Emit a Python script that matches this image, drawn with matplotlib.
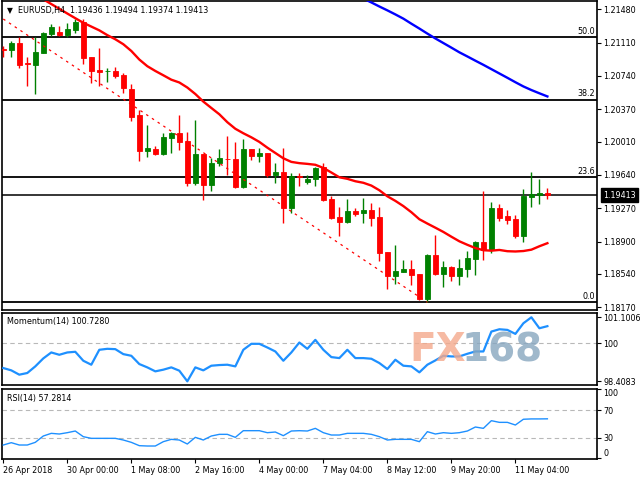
import numpy as np
import matplotlib.pyplot as plt
import matplotlib.transforms as mtransforms

plt.rcParams['font.family'] = ['DejaVu Sans']
FS = 5.8

# EURUSD H4 candles, bar 0 = 26 Apr 2018 16:00
opens = [1.21036, 1.21028, 1.21109, 1.20880, 1.20861, 1.20998, 1.21206, 1.21228, 1.21195, 1.21250,
         1.21342, 1.20954, 1.20806, 1.20795, 1.20798, 1.20750, 1.20591, 1.20306, 1.19910, 1.19928,
         1.19873, 1.20051, 1.20109, 1.20021, 1.19554, 1.19873, 1.19529, 1.19770, 1.19821, 1.19817,
         1.19503, 1.19928, 1.19851, 1.19881, 1.19643, 1.19676, 1.19276, 1.19625, 1.19562, 1.19592,
         1.19725, 1.19373, 1.19170, 1.19121, 1.19240, 1.19221, 1.19251, 1.19170, 1.18781, 1.18521,
         1.18566, 1.18596, 1.18540, 1.18262, 1.18751, 1.18540, 1.18614, 1.18521, 1.18596, 1.18710,
         1.18892, 1.18807, 1.19270, 1.19184, 1.19148, 1.18962, 1.19399, 1.19414, 1.19436]
highs = [1.21072, 1.21131, 1.21169, 1.20947, 1.21169, 1.21228, 1.21317, 1.21295, 1.21331, 1.21376,
         1.21369, 1.20954, 1.21047, 1.20831, 1.20843, 1.20776, 1.20650, 1.20362, 1.20195, 1.19962,
         1.20109, 1.20121, 1.20306, 1.20121, 1.20250, 1.19873, 1.19825, 1.19928, 1.20073, 1.20006,
         1.20039, 1.19928, 1.19943, 1.19887, 1.19770, 1.19943, 1.19665, 1.19665, 1.19636, 1.19732,
         1.19776, 1.19406, 1.19281, 1.19370, 1.19270, 1.19381, 1.19325, 1.19281, 1.18781, 1.18862,
         1.18696, 1.18696, 1.18540, 1.18762, 1.18973, 1.18684, 1.18632, 1.18707, 1.18795, 1.18907,
         1.19462, 1.19336, 1.19314, 1.19251, 1.19192, 1.19481, 1.19673, 1.19592, 1.19494]
lows = [1.20950, 1.20954, 1.20825, 1.20628, 1.20539, 1.20991, 1.21183, 1.21187, 1.21176, 1.21220,
        1.20872, 1.20665, 1.20628, 1.20673, 1.20714, 1.20554, 1.20243, 1.19798, 1.19843, 1.19862,
        1.19862, 1.19887, 1.19917, 1.19517, 1.19529, 1.19362, 1.19465, 1.19740, 1.19640, 1.19492,
        1.19492, 1.19806, 1.19787, 1.19621, 1.19554, 1.19103, 1.19214, 1.19517, 1.19540, 1.19517,
        1.19354, 1.19151, 1.18962, 1.19110, 1.19184, 1.19110, 1.19073, 1.18688, 1.18373, 1.18429,
        1.18566, 1.18418, 1.18251, 1.18226, 1.18529, 1.18399, 1.18466, 1.18418, 1.18510, 1.18529,
        1.18696, 1.18777, 1.19129, 1.19095, 1.18943, 1.18899, 1.19288, 1.19318, 1.19374]
closes = [1.21032, 1.21109, 1.20861, 1.20877, 1.21009, 1.21220, 1.21287, 1.21198, 1.21261, 1.21342,
          1.20936, 1.20798, 1.20787, 1.20800, 1.20739, 1.20603, 1.20287, 1.19910, 1.19936, 1.19873,
          1.20065, 1.20109, 1.20009, 1.19554, 1.19873, 1.19529, 1.19776, 1.19832, 1.19817, 1.19503,
          1.19928, 1.19851, 1.19887, 1.19640, 1.19673, 1.19276, 1.19629, 1.19617, 1.19595, 1.19717,
          1.19362, 1.19165, 1.19121, 1.19240, 1.19206, 1.19251, 1.19165, 1.18777, 1.18521, 1.18570,
          1.18596, 1.18529, 1.18262, 1.18751, 1.18540, 1.18614, 1.18521, 1.18603, 1.18714, 1.18892,
          1.18807, 1.19270, 1.19165, 1.19140, 1.18962, 1.19406, 1.19425, 1.19436, 1.19413]

# moving averages (red one starts at bar 4, blue one at bar 45)
ma_fast_start = 4
ma_fast = [1.21643, 1.21591, 1.21538, 1.21486, 1.21433, 1.21381, 1.21330, 1.21288, 1.21246, 1.21193,
           1.21147, 1.21092, 1.21017, 1.20922, 1.20848, 1.20795, 1.20747, 1.20698, 1.20667, 1.20611,
           1.20539, 1.20455, 1.20384, 1.20314, 1.20226, 1.20153, 1.20103, 1.20058, 1.20007, 1.19943,
           1.19884, 1.19825, 1.19785, 1.19771, 1.19763, 1.19753, 1.19718, 1.19667, 1.19614, 1.19597,
           1.19570, 1.19553, 1.19522, 1.19470, 1.19403, 1.19352, 1.19294, 1.19226, 1.19148, 1.19100,
           1.19054, 1.19007, 1.18954, 1.18903, 1.18864, 1.18828, 1.18804, 1.18799, 1.18807, 1.18793,
           1.18790, 1.18795, 1.18810, 1.18848, 1.18882]
ma_slow_start = 45
ma_slow = [1.21599, 1.21556, 1.21511, 1.21468, 1.21423, 1.21376, 1.21320, 1.21266, 1.21210, 1.21156,
           1.21105, 1.21054, 1.21002, 1.20956, 1.20909, 1.20863, 1.20815, 1.20767, 1.20719, 1.20670,
           1.20623, 1.20583, 1.20547, 1.20512]

momentum = [98.966, 98.869, 98.687, 98.757, 99.036, 99.371, 99.622, 99.524, 99.622, 99.650,
            99.273, 99.106, 99.734, 99.775, 99.761, 99.552, 99.482, 99.134, 98.994, 98.827,
            98.897, 98.994, 98.855, 98.408, 98.994, 98.869, 99.064, 99.092, 99.106, 99.036,
            99.734, 99.985, 99.985, 99.831, 99.664, 99.273, 99.622, 100.040, 99.775, 100.152,
            99.734, 99.427, 99.385, 99.734, 99.385, 99.385, 99.357, 99.176, 98.924, 99.315,
            99.064, 99.036, 98.785, 99.106, 99.287, 99.482, 99.455, 99.455, 99.566, 99.664,
            99.664, 100.501, 100.598, 100.571, 100.403, 100.850, 101.101, 100.640, 100.728]
rsi = [19.45, 22.82, 19.45, 19.45, 23.30, 32.45, 36.30, 35.34, 37.26, 39.67,
       31.49, 29.08, 29.08, 29.08, 29.08, 26.67, 23.30, 18.49, 18.01, 18.01,
       24.27, 27.63, 26.67, 20.90, 30.52, 26.67, 32.45, 34.86, 34.86, 30.52,
       40.15, 40.15, 40.15, 37.26, 38.23, 32.93, 39.67, 40.15, 39.67, 43.52,
       37.26, 33.89, 33.89, 36.30, 36.30, 36.30, 34.86, 31.49, 26.67, 27.63,
       27.63, 27.63, 24.27, 38.71, 35.34, 37.26, 36.30, 37.26, 39.67, 45.45,
       43.52, 54.59, 52.18, 52.18, 48.33, 56.66, 57.14, 57.14, 57.28]

# fibonacci retracement and its dashed trend line
fib_low, fib_high = 1.18226, 1.24110
fib_pcts = [0.0, 23.6, 38.2, 50.0]
trend_x = [0, 53]
trend_y = [1.21372, 1.18226]

bid = 1.19413
price_ticks = [1.21480, 1.21110, 1.20740, 1.20370, 1.20010, 1.19640, 1.19270, 1.18900, 1.18540, 1.18170]
mom_ticks = [98.4083, 100, 101.1006]
rsi_ticks = [0, 30, 70, 100]
date_idx = [0, 8, 16, 24, 32, 40, 48, 56, 64]
date_labels = ['26 Apr 2018', '30 Apr 00:00', '1 May 08:00', '2 May 16:00', '4 May 00:00',
               '7 May 04:00', '8 May 12:00', '9 May 20:00', '11 May 04:00']

o = np.array(opens); h = np.array(highs); l = np.array(lows); c = np.array(closes)
x = np.arange(len(c))

fig = plt.figure(figsize=(6.4, 4.8), dpi=100)
W, H = 640.0, 480.0
ax = fig.add_axes([2 / W, 1 - 310 / H, 595 / W, 309 / H])
ax_mom = fig.add_axes([2 / W, 1 - 385.3 / H, 595 / W, 72.3 / H])
ax_rsi = fig.add_axes([2 / W, 1 - 459 / H, 595 / W, 70.3 / H])

for a in (ax, ax_mom, ax_rsi):
    a.set_xlim(-0.16, 74.2)
    for s in a.spines.values():
        s.set_linewidth(1.2)
        s.set_color('black')
    a.yaxis.tick_right()
    a.tick_params(axis='y', direction='out', length=3, width=0.8, pad=1.5, labelsize=FS)

# candles
cols = np.where(c >= o, '#008000', '#ff0000')
ax.vlines(x, l, h, colors=cols, lw=1.0, zorder=3)
ax.bar(x, c - o, bottom=o, width=0.62, color=cols, edgecolor=cols, linewidth=0.6, zorder=4)

# fib levels + bid line
blend = mtransforms.blended_transform_factory(ax.transAxes, ax.transData)
for p in fib_pcts:
    lvl = fib_low + (fib_high - fib_low) * p / 100
    ax.axhline(lvl, color='black', lw=1.3, zorder=2)
    ax.text(0.996, lvl + 0.00018, f'{p:.1f}', transform=blend, ha='right', va='bottom', fontsize=FS)
ax.axhline(bid, color='black', lw=1.1, zorder=2)
ax.plot(trend_x, trend_y, color='red', lw=0.9, ls=(0, (2, 3.5)), zorder=5)

# moving averages
ax.plot(ma_fast_start + np.arange(len(ma_fast)), ma_fast, color='red', lw=1.7, zorder=6)
ax.plot(ma_slow_start + np.arange(len(ma_slow)), ma_slow, color='#0000ff', lw=1.7, zorder=6)

ax.set_ylim(1.18140, 1.21572)
ax.set_yticks(price_ticks)
ax.set_yticklabels([f'{v:.5f}' for v in price_ticks])
ax.set_xticks([])
ax.text(1.0105, bid, f'{bid:.5f}', transform=blend, ha='left', va='center', fontsize=FS,
        color='white', bbox=dict(boxstyle='square,pad=0.3', fc='black', ec='black'), clip_on=False)

# momentum
ax_mom.plot(x, momentum, color='#1e90ff', lw=1.6, zorder=3)
ax_mom.axhline(100, color='#b8b8b8', lw=0.8, ls=(0, (4, 3)), zorder=1)
ax_mom.set_ylim(98.24, 101.282)
ax_mom.set_yticks(mom_ticks)
ax_mom.set_yticklabels(['98.4083', '100', '101.1006'])
ax_mom.set_xticks([])
ax_mom.text(0.009, 0.88, 'Momentum(14) 100.7280', transform=ax_mom.transAxes, fontsize=FS, va='center')

# rsi
ax_rsi.plot(x, rsi, color='#1e90ff', lw=1.0, zorder=3)
for lv in (30, 70):
    ax_rsi.axhline(lv, color='#b8b8b8', lw=0.8, ls=(0, (4, 3)), zorder=1)
ax_rsi.set_ylim(-0.76, 100.8)
ax_rsi.set_yticks(rsi_ticks)
ax_rsi.set_yticklabels([str(v) for v in rsi_ticks])
lbls = ax_rsi.get_yticklabels()
lbls[0].set_va('bottom')
lbls[-1].set_va('top')
ax_rsi.text(0.009, 0.86, 'RSI(14) 57.2814', transform=ax_rsi.transAxes, fontsize=FS, va='center')
ax_rsi.set_xticks(date_idx)
ax_rsi.set_xticklabels(date_labels, ha='left', fontsize=FS)
ax_rsi.tick_params(axis='x', direction='out', length=3, width=0.8, pad=2)

# header
fig.text(7 / W, 1 - 10.5 / H, '\u25bc', fontsize=5.5, va='center')
fig.text(18 / W, 1 - 10.5 / H, 'EURUSD,H4  1.19436 1.19494 1.19374 1.19413', fontsize=FS, va='center')

# watermark
fig.text(409 / W, 1 - 361 / H, 'FX', fontsize=28, fontweight='bold', color='#f4a98c', alpha=0.8,
         va='baseline', ha='left', zorder=10)
fig.text(462 / W, 1 - 361 / H, '168', fontsize=28, fontweight='bold', color='#87a6bf', alpha=0.8,
         va='baseline', ha='left', zorder=10)

fig.savefig('out.png', dpi=100)
